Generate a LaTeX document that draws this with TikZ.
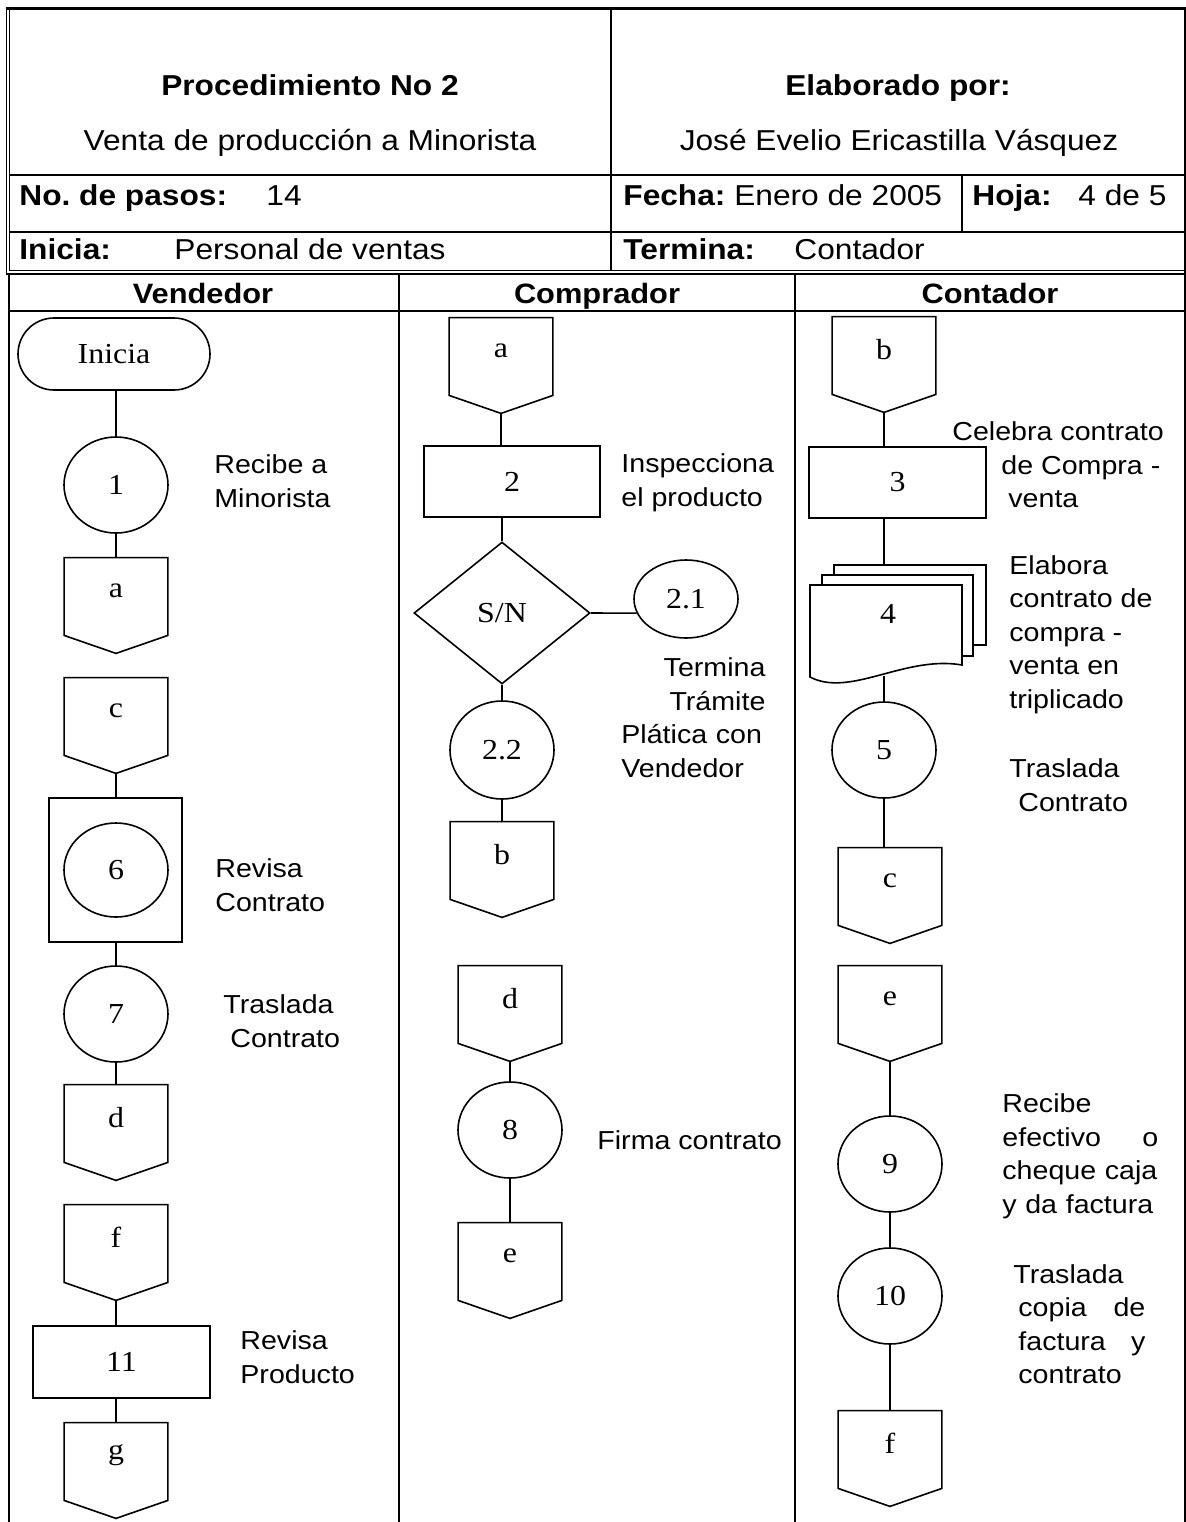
\documentclass[tikz,border=0pt]{standalone}
\usepackage{fontspec}
\setmainfont{Liberation Sans}[FakeStretch=1.1]
\newfontfamily\shapefont{Liberation Serif}[FakeStretch=1.1]
\usetikzlibrary{shapes.geometric}
\frenchspacing

\tikzset{
  line/.style={line width=0.8pt},
  rule/.style={line width=1pt},
  thin/.style={line width=0.5pt},
  proc/.style={draw, line width=0.8pt, inner sep=0pt, font=\shapefont\fontsize{14.5}{17}\selectfont},
  circ/.style={proc, ellipse, minimum width=52pt, minimum height=48pt},
  box/.style={proc, rectangle, minimum width=88pt, minimum height=36pt},
  conn/.style={rectangle, minimum width=51.5pt, minimum height=47.5pt, inner sep=0pt},
  lbl/.style={inner sep=0pt, font=\shapefont\fontsize{14.5}{17}\selectfont},
  note/.style={inner sep=0pt, anchor=west, align=left, font=\fontsize{13}{16.75}\selectfont},
  head/.style={inner sep=0pt, anchor=base west, font=\fontsize{14.4}{17}\selectfont},
  headb/.style={head, font=\bfseries\fontsize{14.4}{17}\selectfont},
  lane/.style={inner sep=0pt, anchor=base, font=\bfseries\fontsize{14}{16}\selectfont},
}

% off-page connector: name, position, letter
\newcommand\offpage[3]{%
  \node[conn] (#1) at (#2) {};
  \draw[line] (#1.north west) -- (#1.north east) -- ([yshift=9pt]#1.south east)
    -- (#1.south) -- ([yshift=9pt]#1.south west) -- cycle;
  \node[lbl] (#1-t) at ([yshift=-16.5pt]#1.north) {#3};
}

\begin{document}
\begin{tikzpicture}[x=0.5pt, y=-0.5pt]
    \useasboundingbox (0,0) rectangle (1186,1522);

    %% Header table
    \draw[line width=1.5pt] (5.5,8) -- (1185.5,8);
    \draw[thin] (6.5,8) -- (6.5,273);
    \draw[thin] (9.5,8) -- (9.5,270) -- (1184.5,270);
    \draw[rule] (1184.5,8) -- (1184.5,1522);
    \draw[rule] (9.5,175) -- (1184.5,175);
    \draw[rule] (9.5,232) -- (1184.5,232);
    \draw[rule] (611,8) -- (611,270);
    \draw[rule] (962,175) -- (962,232);

    \node[headb, anchor=base] (proc) at (310,95) {Procedimiento No 2};
    \node[head, anchor=base] (procname) at (310,150) {Venta de producción a Minorista};
    \node[headb, anchor=base] (elab) at (898,95) {Elaborado por:};
    \node[head, anchor=base] (autor) at (899,150) {José Evelio Ericastilla Vásquez};
    \node[headb] (pasos) at (19,205) {No. de pasos:};
    \node[head] (npasos) at (266,205) {14};
    \node[head] (fecha) at (623,205) {\textbf{Fecha:} Enero de 2005};
    \node[headb] (hoja) at (972,205) {Hoja:};
    \node[head] (nhoja) at (1078,205) {4 de 5};
    \node[headb] (inicia) at (19,259) {Inicia:};
    \node[head] (quien) at (174,259) {Personal de ventas};
    \node[headb] (termina) at (623,259) {Termina:};
    \node[head] (fin) at (794,259) {Contador};

    %% Lanes
    \draw[rule] (6,273.5) -- (1185,273.5);
    \draw[rule] (8.5,273.5) -- (8.5,1522);
    \draw[rule] (8.5,311) -- (1184.5,311);
    \draw[rule] (398.5,273.5) -- (398.5,1522);
    \draw[rule] (794.5,273.5) -- (794.5,1522);
    \node[lane] (vend) at (203,303) {Vendedor};
    \node[lane] (comp) at (597,303) {Comprador};
    \node[lane] (cont) at (990,303) {Contador};

    %% Vendedor
    \node[proc, rectangle, rounded corners=18pt, minimum width=96pt, minimum height=36pt] (ini) at (114,354) {Inicia};
    \node[circ] (p1) at (116,485) {1};
    \offpage{a1}{116,605.5}{a}
    \offpage{c1}{116,725.5}{c}
    \node[box, minimum width=66.5pt, minimum height=72pt] (b6) at (115.5,870) {};
    \node[circ, minimum height=47pt] (p6) at (116,870) {6};
    \node[circ] (p7) at (116,1014) {7};
    \offpage{d1}{116,1132.5}{d}
    \offpage{f1}{116,1252.5}{f}
    \node[box, minimum width=88.5pt] (p11) at (121.5,1362) {11};
    \offpage{g1}{116,1470.5}{g}

    \draw[line] (p1.north |- ini.south) -- (p1.north);
    \draw[line] (p1.south) -- (a1.north);
    \draw[line] (c1.south) -- (c1.south |- b6.north);
    \draw[line] (b6.south -| p7.north) -- (p7.north);
    \draw[line] (p7.south) -- (d1.north);
    \draw[line] (f1.south) -- (f1.south |- p11.north);
    \draw[line] (p11.south -| g1.north) -- (g1.north);

    \node[note] (n1) at (214,481) {Recibe a\\Minorista};
    \node[note] (n6) at (215,885) {Revisa\\Contrato};
    \node[note] (n7) at (223,1021) {Traslada\\\hspace*{3.5pt}Contrato};
    \node[note] (n11) at (240,1357) {Revisa\\Producto};

    %% Comprador
    \offpage{a2}{501,365.5}{a}
    \node[box, minimum height=35.5pt] (p2) at (512,481.5) {2};
    \node[proc, diamond, minimum width=88pt, minimum height=71pt] (sn) at (502,613) {S/N};
    \node[circ, minimum height=39pt] (p21) at (686,599) {2.1};
    \node[circ, minimum height=49pt] (p22) at (502,750) {2.2};
    \offpage{b2}{502,869.5}{b}
    \offpage{d2}{510,1013.5}{d}
    \node[circ] (p8) at (510,1130) {8};
    \offpage{e2}{510,1270.5}{e}

    \draw[line] (a2.south) -- (a2.south |- p2.north);
    \draw[line] (p2.south -| sn.north) -- (sn.north);
    \draw[line] (sn.east) -- (p21.196);
    \draw[line] (sn.south) -- (p22.north);
    \draw[line] (p22.south) -- (b2.north);
    \draw[line] (d2.south) -- (p8.north);
    \draw[line] (p8.south) -- (e2.north);

    \node[note] (n2) at (621,483) {Inspecciona\\el producto};
    \node[note, text width=72pt] (n21) at (621,717.5)
      {\hspace*{\fill}Termina\\\hspace*{\fill}Trámite\\Plática con\\Vendedor};
    \node[note] (n8) at (597,1140) {Firma contrato};

    %% Contador
    \offpage{b3}{884,364.5}{b}
    \node[box, minimum width=88.5pt, minimum height=35.5pt] (p3) at (897.5,482.5) {3};
    \draw[line, fill=white] (834,565) rectangle (986,645);
    \draw[line, fill=white] (822,575) rectangle (973,656);
    \draw[line, fill=white] (810,585) -- (962,585) -- (962,665)
      .. controls (905,655) and (850,698) .. (810,677) -- cycle;
    \node[conn, minimum width=88pt, minimum height=55.5pt] (d4) at (898,620.5) {};
    \node[lbl] (d4-t) at (888,614) {4};
    \node[circ] (p5) at (884,750) {5};
    \offpage{c3}{890,895.5}{c}
    \offpage{e3}{890,1013.5}{e}
    \node[circ] (p9) at (890,1164) {9};
    \node[circ] (p10) at (890,1296) {10};
    \offpage{f3}{890,1458.5}{f}

    \draw[line] (b3.south) -- (b3.south |- p3.north);
    \draw[line] (p3.south -| b3.south) -- (b3.south |- d4.north);
    \draw[line] (d4.south -| b3.south) -- (b3.south |- p5.north);
    \draw[line] (p5.south) -- (p5.south |- c3.north);
    \draw[line] (e3.south) -- (p9.north);
    \draw[line] (p9.south) -- (p10.north);
    \draw[line] (p10.south) -- (f3.north);

    \node[note] (n3) at (952,465)
      {Celebra contrato\\\hspace*{24.5pt}de Compra -\\\hspace*{28pt}venta};
    \node[note] (n4) at (1009,634.6) {Elabora\\contrato de\\compra -\\venta en\\triplicado};
    \node[note] (n5) at (1009,785) {Traslada\\\hspace*{4.5pt}Contrato};
    \node[note, text width=78pt] (n9) at (1002,1156.5)
      {Recibe\\efectivo\hfill o\\cheque caja\\y da factura};
    \node[note, text width=66pt] (n10) at (1013,1324)
      {Traslada\\\hspace*{2.5pt}copia\hfill de\\\hspace*{2.5pt}factura\hfill y\\\hspace*{2.5pt}contrato};
\end{tikzpicture}
\end{document}
